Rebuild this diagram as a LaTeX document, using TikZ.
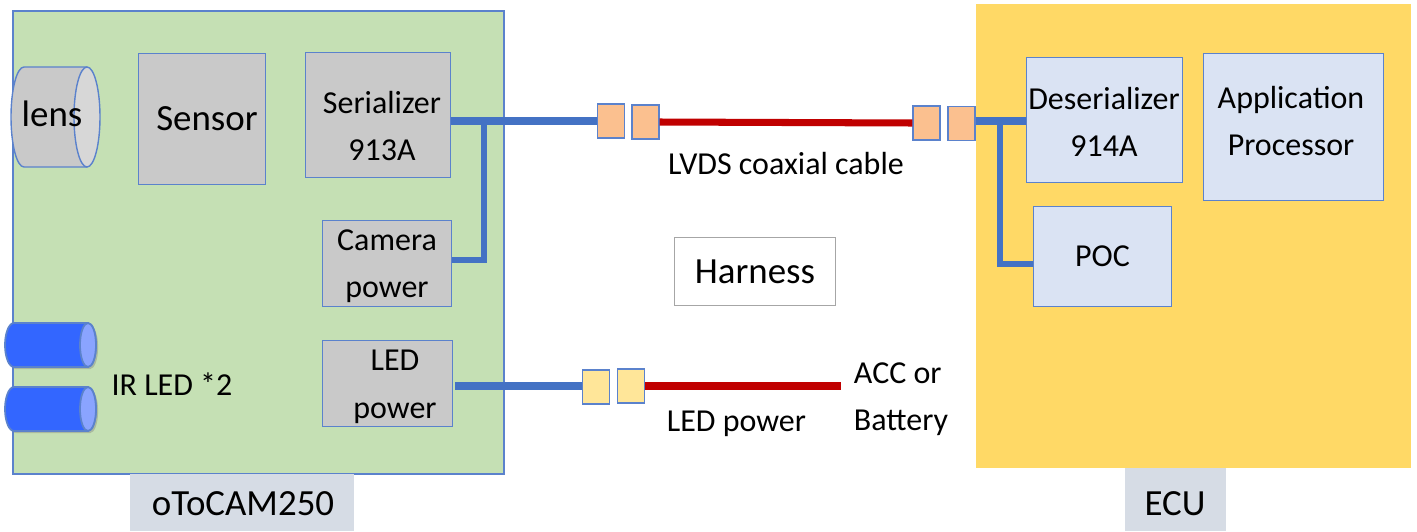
\documentclass[tikz,border=0pt]{standalone}
\usepackage{fontspec}
\setmainfont{Carlito}
\usetikzlibrary{shadows}

\definecolor{boardgreen}{HTML}{C5E0B4}
\definecolor{ecuyellow}{HTML}{FFD966}
\definecolor{edgeblue}{HTML}{5B82CC}
\definecolor{wireblue}{HTML}{4472C4}
\definecolor{wirered}{HTML}{C00000}
\definecolor{boxgray}{HTML}{C9C9C9}
\definecolor{boxblue}{HTML}{DAE3F3}
\definecolor{plugorange}{HTML}{FBC08F}
\definecolor{plugyellow}{HTML}{FFE699}
\definecolor{tagblue}{HTML}{D6DCE5}
\definecolor{ledblue}{HTML}{3366FF}
\definecolor{ledend}{HTML}{8AA4FF}

\begin{document}
\begin{tikzpicture}[
        x=0.02cm,y=-0.02cm,
        every node/.style={inner sep=0pt,font=\fontsize{18.2}{27}\selectfont,align=center},
        bigtext/.style={font=\fontsize{21}{27}\selectfont},
        graybox/.style={draw=edgeblue,line width=0.7pt,fill=boxgray},
        bluebox/.style={draw=edgeblue,line width=0.7pt,fill=boxblue},
        plug/.style={draw=edgeblue,line width=0.9pt,minimum width=15.2pt,minimum height=19.2pt},
        tag/.style={fill=tagblue},
        bluewire/.style={draw=wireblue,line width=4.5pt},
        thinwire/.style={draw=wireblue,line width=3.8pt},
        redwire/.style={draw=wirered,line width=4pt}
    ]
    \useasboundingbox (0,0) rectangle (1417,531);

    % boards
    \node[fill=boardgreen,draw=edgeblue,line width=0.8pt,minimum width=279.4pt,minimum height=263.4pt] (cam) at (258.5,242.5) {};
    \node[fill=ecuyellow,minimum width=247.5pt,minimum height=264pt] (ecu) at (1193.5,236) {};
    \node[tag,minimum width=127.5pt,minimum height=32.4pt] (camtag) at (242,502.5) {};
    \node[bigtext] (camtagText) at (243,504) {oToCAM250};
    \node[tag,minimum width=57.5pt,minimum height=35.8pt] (ecutag) at (1175.5,499.5) {};
    \node[bigtext] (ecutagText) at (1175,504) {ECU};

    % lens
    \draw[draw=edgeblue,line width=0.8pt,fill=boxgray] (87,67) -- (24,67)
        arc[start angle=270,end angle=90,x radius=13,y radius=50] -- (87,167);
    \draw[draw=edgeblue,line width=0.8pt,fill=boxgray!75!white] (87,117) circle[x radius=13,y radius=50];
    \node[bigtext] (lens) at (52,114) {lens};

    % camera side
    \node[graybox,minimum width=72.4pt,minimum height=74.8pt] (sensor) at (202,119) {};
    \node[bigtext] (sensorText) at (207,118.5) {Sensor};
    \node[graybox,minimum width=82.7pt,minimum height=71.4pt] (ser) at (378,115) {};
    \node (serText) at (382,126) {Serializer\\913A};
    \node[graybox,minimum width=73.6pt,minimum height=49.2pt] (campow) at (387,263.5) {};
    \node (campowText) at (387,266) {Camera\\power};
    \node[graybox,minimum width=74.1pt,minimum height=49.2pt] (ledpow) at (387.5,383.5) {};
    \node (ledpowText) at (395,387) {LED\\power};

    % IR LEDs
    \foreach \ypos in {345,409} {
        \draw[draw=edgeblue,line width=1pt,fill=ledblue,drop shadow={opacity=0.4,shadow xshift=1.2pt,shadow yshift=-1.2pt}]
            (88,\ypos-22) -- (14,\ypos-22)
            arc[start angle=270,end angle=90,x radius=9,y radius=22] -- (88,\ypos+22)
            arc[start angle=90,end angle=-90,x radius=8,y radius=22];
        \draw[draw=edgeblue,line width=1pt,fill=ledend] (88,\ypos) circle[x radius=8,y radius=22];
    }
    \node (ledText) at (172,384) {IR LED *2};

    % ecu side
    \node[bluebox,minimum width=89pt,minimum height=71.4pt] (deser) at (1104.5,120) {};
    \node (deserText) at (1104,122) {Deserializer\\914A};
    \node[bluebox,minimum width=102.6pt,minimum height=84pt] (app) at (1293.5,127) {};
    \node (appText) at (1291,121) {Application\\Processor};
    \node[bluebox,minimum width=78.8pt,minimum height=57.3pt] (poc) at (1102.5,256.5) {POC};

    % connectors
    \node[plug,fill=plugorange] (plugA) at (611,121) {};
    \node[plug,fill=plugorange] (plugB) at (645.5,122) {};
    \node[plug,fill=plugorange] (plugC) at (926.5,123) {};
    \node[plug,fill=plugorange] (plugD) at (961.5,123.5) {};
    \node[plug,fill=plugyellow] (plugE) at (596,387) {};
    \node[plug,fill=plugyellow] (plugF) at (631,386) {};

    % wires
    \coordinate (teeCam) at (484,121);
    \coordinate (camElbow) at (484,260);
    \coordinate (teeEcu) at (1000,121);
    \coordinate (ecuElbow) at (1000,264);
    \coordinate (accEnd) at (841,386);
    \coordinate (ledStart) at (455,386);

    \draw[bluewire] (ser.east |- plugA.west) -- (plugA.west);
    \draw[thinwire] (campow.east |- camElbow) -- (camElbow) -- (teeCam);
    \draw[redwire] (plugB.east) -- (plugC.west);
    \draw[bluewire] (plugD.east |- teeEcu) -- (deser.west |- teeEcu);
    \draw[thinwire] (teeEcu) -- (ecuElbow) -- (poc.west |- ecuElbow);
    \draw[bluewire] (ledStart) -- (plugE.west |- ledStart);
    \draw[redwire] (plugF.east) -- (accEnd);

    % labels
    \node (lvds) at (786,164) {LVDS coaxial cable};
    \node[draw=black!35,line width=0.6pt,minimum width=91.8pt,minimum height=39pt,bigtext] (harness) at (755,271.5) {Harness};
    \node (ledLabel) at (736.5,424) {LED power};
    \node[align=left] (acc) at (901,399) {ACC or\\Battery};
\end{tikzpicture}
\end{document}
